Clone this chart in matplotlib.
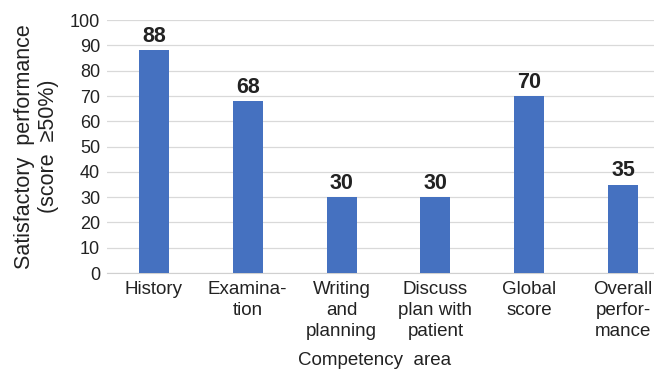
import numpy as np
from matplotlib import pyplot as plt

plt.rcParams['font.family'] = ['Liberation Sans', 'DejaVu Sans']

categories = ["History", "Examina-\ntion", "Writing\nand\nplanning",
              "Discuss\nplan with\npatient", "Global\nscore", "Overall\nperfor-\nmance"]
values = [88, 68, 30, 30, 70, 35]
yticks = list(range(0, 101, 10))

fig = plt.figure(figsize=(6.54, 3.73), dpi=100)
ax = fig.add_axes([0.1636, 0.268, 0.8364, 0.678])

x = np.arange(len(categories))
ax.bar(x, values, width=0.32, color='#4571C0', zorder=3)
for xi, v in zip(x, values):
    ax.text(xi, v + 1.2, str(v), ha='center', va='bottom', fontsize=15.5,
            fontweight='bold', color='#222222')

ax.set_xlim(-0.5, 5.33)
ax.set_ylim(0, 100)
ax.set_yticks(yticks)
ax.set_xticks(x)
ax.set_xticklabels(categories, fontsize=13.5, color='#222222', linespacing=1.3, va='top')
ax.tick_params(axis='both', length=0, labelcolor='#222222')
ax.tick_params(axis='y', pad=5, labelsize=13)
ax.tick_params(axis='x', pad=6)
ax.grid(axis='y', color='#d9d9d9', linewidth=0.9, zorder=0)
for s in ['top', 'right', 'left']:
    ax.spines[s].set_visible(False)
ax.spines['bottom'].set_color('#d0d0d0')

ax.set_ylabel("Satisfactory  performance\n(score  ≥50%)", fontsize=15.5,
              color='#222222', linespacing=1.2)
ax.yaxis.set_label_coords(-0.088, 0.5)
fig.text(0.573, 0.033, "Competency  area", ha='center', va='center',
         fontsize=13.5, color='#222222')

fig.savefig('out.png', dpi=100)
